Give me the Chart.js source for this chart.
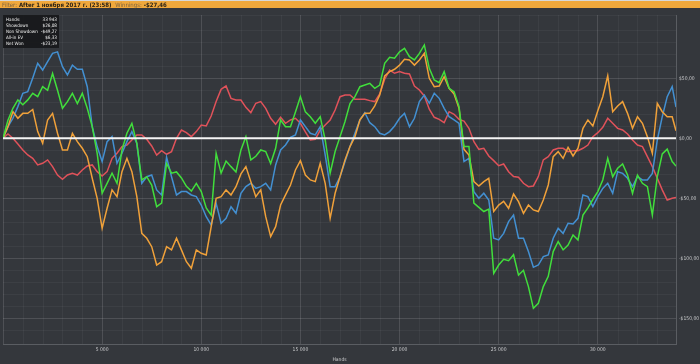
<!DOCTYPE html>
<html>
<head>
<meta charset="utf-8">
<title>Graph</title>
<script src="https://cdn.jsdelivr.net/npm/chart.js@4.4.0/dist/chart.umd.min.js"></script>
<style>
  html, body { margin: 0; padding: 0; background: #34373c; }
  #wrap { position: relative; width: 700px; height: 364px; overflow: hidden; background: #34373c; }
  #graph { position: absolute; left: 0; top: 0; }
  #topbar {
    position: absolute; left: 0; top: 0; width: 700px; height: 8px;
    background: #f0a83c; border-top: 1px solid #d8d8d8; box-sizing: border-box;
    font: bold 6px "DejaVu Sans Condensed", "Liberation Sans", Arial, sans-serif; line-height: 7px;
    color: #2a2216; padding-left: 2px; white-space: nowrap;
  }
  #topbar .lbl { color: #7a6240; font-weight: normal; }
  #stats {
    position: absolute; left: 3px; top: 15px; width: 56px; height: 33px;
    background: rgba(22, 23, 26, 0.9); box-sizing: border-box; padding: 2px 2px 0 3px;
    font: 4.6px "DejaVu Sans Condensed", "Liberation Sans", Arial, sans-serif; color: #f0f0f0;
  }
  #stats div { display: flex; justify-content: space-between; height: 6px; line-height: 6px; white-space: nowrap; }
</style>
</head>
<body>
<div id="wrap">
  <canvas id="graph" width="700" height="364"></canvas>
  <div id="topbar"><span class="lbl">Filter:</span> After 1 ноября 2017 г. (23:58) &nbsp;<span class="lbl">Winnings:</span> -$27,46</div>
  <div id="stats"></div>
</div>
<script>
// hands played (x values)
const hands = [
  0, 250, 500, 750, 1000, 1250, 1500, 1750, 2000, 2250, 2500, 2750, 3000, 3250, 3500, 3750,
  4000, 4250, 4500, 4750, 5000, 5250, 5500, 5750, 6000, 6250, 6500, 6750, 7000, 7250, 7500, 7750,
  8000, 8250, 8500, 8750, 9000, 9250, 9500, 9750, 10000, 10250, 10500, 10750, 11000, 11250, 11500, 11750,
  12000, 12250, 12500, 12750, 13000, 13250, 13500, 13750, 14000, 14250, 14500, 14750, 15000, 15250, 15500, 15750,
  16000, 16250, 16500, 16750, 17000, 17250, 17500, 17750, 18000, 18250, 18500, 18750, 19000, 19250, 19500, 19750,
  20000, 20250, 20500, 20750, 21000, 21250, 21500, 21750, 22000, 22250, 22500, 22750, 23000, 23250, 23500, 23750,
  24000, 24250, 24500, 24750, 25000, 25250, 25500, 25750, 26000, 26250, 26500, 26750, 27000, 27250, 27500, 27750,
  28000, 28250, 28500, 28750, 29000, 29250, 29500, 29750, 30000, 30250, 30500, 30750, 31000, 31250, 31500, 31750,
  32000, 32250, 32500, 32750, 33000, 33250, 33500, 33750, 33943
];

// Net Won (green)
const netWon = [
  0, 15, 25, 32, 28, 32, 37.5, 34.7, 43, 40, 54, 40, 25, 30.6, 37.5, 29, 37.5, 25, 9.7, -12.5, -45.8, -37.5, -29, -37.5, -9.7, 4.2, 12.5, -4.2,
  -34.7, -32, -39, -57, -54, -21, -29, -28, -33, -40, -44, -37.5, -44.4, -58, -64, -12.5, -29, -19, -23.6, -28, -9.7, 1.4, -18, -15, -9.7, -11, -21,
  -8.3, 15.3, 9.7, 9.7, 22, 34.7, 22, 18, 12.5, 18, -1.4, -29, -11, 1.4, 14, 29, 34.7, 43, 44.4, 45.8, 41.7, 44.4, 62.5, 67.5, 66.7, 72, 75, 68,
  65.3, 70.8, 77.8, 58.3, 48.6, 46.4, 55.6, 41.7, 38.9, 26.4, -6.9, -6.9, -54, -57.5, -61, -59, -112.5, -105.6, -100.8, -102, -97, -114, -110, -123.6, -141.7, -137.5, -123.6,
  -115, -94.4, -86, -93, -89, -80.6, -84.7, -64, -58, -51, -44.4, -34.7, -16.7, -32, -25, -21.4, -30.6, -45.8, -30.6, -37.5, -40.3, -64, -32, -13, -9, -19.4, -23.19
];

// Showdown (blue)
const showdown = [
  0, 9.7, 16.7, 26.4, 37.5, 38.9, 50.3, 62.5, 56.9, 63.9, 70.8, 72, 59.7, 52.8, 61, 57.5, 57.5, 43, 9.7, -6.9, -19.4, -2.8, 1.4, -20.8, -12.5, -2.8, 5.6, -4.2,
  -37.5, -32, -30.6, -43, -47.2, -15.8, -32, -47.2, -44.4, -44.4, -47.2, -48.6, -55.6, -65.3, -72.2, -54.2, -70.8, -66.7, -57, -62.5, -45.8, -40.3, -37.5, -41.7, -40.3, -37.5, -43,
  -22.2, -9.7, -5.6, 0.8, 2.8, 15.3, 9.7, 4.2, 2.8, 9.7, -13.9, -40.3, -40.3, -32, -19.4, -6.9, 4.2, 15.3, 21.4, 13, 9.7, 4.2, 2.8, 5.6, 10.3, 16.7, 20.8, 9.7,
  16.7, 30.6, 36.1, 29.2, 37.5, 33.3, 25, 18, 15.3, 12.5, -19.4, -16.7, -44.4, -50, -45.8, -51.4, -83.3, -84.7, -79.2, -69.4, -63.9, -83.3, -83.3, -94.4, -107.5, -105.6, -98.6,
  -97.2, -83.3, -75, -79.2, -70.8, -71.4, -66.7, -47.2, -48.6, -56.9, -48.6, -41.7, -37.5, -45.8, -27.8, -29.2, -33.3, -40.3, -31.9, -34.7, -34.7, -29.2, -1.4, 18, 34.7, 43, 26.08
];

// All-in EV (orange)
const allInEV = [
  0, 9.7, 22.2, 16.7, 20.8, 20.8, 24, 5.6, -4.2, 15.3, 20.8, 4.2, -9.7, -9.7, 4.2, -2.8, -8.3, -15.3, -33.3, -50, -75, -58.3, -43, -48.6, -27.8, -16.7, -27.8, -48.6,
  -79.2, -83.3, -90.3, -105.6, -102.8, -90.3, -93, -83.3, -93, -102.8, -108.3, -93, -95.8, -97.2, -73.6, -50, -48.6, -43, -47.2, -40.3, -29.7, -23.6, -36.1, -48.6, -43, -65.3, -81.9,
  -73.6, -55.6, -47.2, -38.9, -26.4, -18.6, -30.6, -34.7, -36.1, -20.8, -37.5, -66.7, -45.8, -31.9, -18, -6.9, 1.4, 15.3, 20.8, 20.8, 27, 36.1, 52, 55.6, 57.5, 61, 65.8, 65.3,
  61, 65.3, 70.8, 50, 43, 43.6, 51.4, 41.7, 37, 25, -9.2, -13.9, -36.1, -39.7, -36.1, -33.3, -61, -55.6, -52.5, -58.3, -46.4, -52.8, -62.5, -55.6, -59.7, -61, -51.4,
  -38.9, -15.3, -11.1, -16.7, -7.5, -14.7, -8.3, 8.3, 15.3, 10.3, 23, 34.7, 52, 22.2, 27, 30.6, 20.8, 8.3, 18, 12.5, 1.4, -12.5, 29.2, 22.2, 18, 18, 6.33
];

// Non Showdown (red)
const nonShowdown = [
  0, 3.6, 0, -4.7, -9.7, -13.9, -16.7, -22.2, -20.8, -18, -23.6, -30.6, -34.2, -30.6, -29.2, -30.6, -26.4, -23, -22.2, -27.8, -31.4, -27.8, -16.7, -12.5, -6.9, -5.6, -1.4, 2.8,
  2.8, -0.8, -6.4, -13.9, -10.3, -13.3, -11.1, 0, 6.9, 4.7, 1.4, 5.6, 11.1, 10.3, 18.6, 30.6, 40.8, 43.6, 33.3, 31.9, 31.9, 25.8, 21.4, 29.2, 30.6, 25, 16.7,
  11.7, 17.5, 12.5, 15.3, 16.7, 12.5, 5.3, -1.4, -0.8, 6.9, 11.1, 15.3, 23.6, 34.7, 36.1, 36.1, 32.5, 32.5, 32.5, 31.4, 30.6, 37, 49.2, 56.9, 54.2, 55.6, 54.2, 53.6,
  43.6, 40.3, 35.3, 24.2, 17.5, 15.8, 13, 22.2, 20, 15.8, 14.4, 8.3, -2.8, -9.2, -8.3, -14.7, -18.6, -22.8, -21.4, -27.8, -31.9, -32.5, -37.5, -40.3, -39.7, -31.9, -18,
  -15.3, -9.7, -8.3, -8.3, -11.1, -10.3, -10.3, -8.3, -5.6, 1.4, 4.7, 9.2, 16.7, 12.5, 8.3, 6.9, 3.6, -1.4, -5.6, -6.9, -15.3, -23.6, -33.3, -43, -51.4, -50, -49.27
];

const handTicks = [0, 5000, 10000, 15000, 20000, 25000, 30000];
const statLabels = ["Hands:", "Showdown", "Non Showdown", "All-in EV", "Net Won"];
const statValues = ["33 943", "$26,08", "-$49,27", "$6,33", "-$23,19"];

const yMin = -171.4;
const yMax = 102.75;
const handsMax = 33943;

function fmtMoney(v) {
  return (v < 0 ? "-" : "") + "$" + Math.abs(v).toFixed(2).replace(".", ",");
}

function fmtHands(v) {
  return String(v).replace(/\B(?=(\d{3})+(?!\d))/g, " ");
}

const statsBox = document.getElementById("stats");
statLabels.forEach((lbl, i) => {
  const row = document.createElement("div");
  row.innerHTML = `<span>${lbl}</span><span>${statValues[i]}</span>`;
  statsBox.appendChild(row);
});

function toPoints(values) {
  return values.map((v, i) => ({ x: hands[i], y: v }));
}

const majorGrid = "rgba(255,255,255,0.13)";
const minorGrid = "rgba(255,255,255,0.045)";
const tickColor = "#c9cacc";
const tickFont = { family: "'DejaVu Sans Condensed', 'Liberation Sans', Arial", size: 5 };

// faint vertical lines every 1000 hands
const minorHands = {
  id: "minorHands",
  beforeDatasetsDraw(chart) {
    const ctx = chart.ctx;
    const area = chart.chartArea;
    const sx = chart.scales.x;
    ctx.save();
    ctx.strokeStyle = minorGrid;
    ctx.lineWidth = 1;
    for (let h = 1000; h < handsMax; h += 1000) {
      if (h % 5000 === 0) continue;
      const x = Math.round(sx.getPixelForValue(h)) + 0.5;
      ctx.beginPath();
      ctx.moveTo(x, area.top);
      ctx.lineTo(x, area.bottom);
      ctx.stroke();
    }
    ctx.restore();
  }
};

// white zero line drawn over the series
const zeroLine = {
  id: "zeroLine",
  afterDatasetsDraw(chart) {
    const ctx = chart.ctx;
    const area = chart.chartArea;
    const y = chart.scales.y.getPixelForValue(0);
    ctx.save();
    ctx.strokeStyle = "#f4f4f4";
    ctx.lineWidth = 2;
    ctx.beginPath();
    ctx.moveTo(area.left, y);
    ctx.lineTo(area.right, y);
    ctx.stroke();
    ctx.restore();
  }
};

const lineStyle = { pointRadius: 0, borderWidth: 1.5, tension: 0, fill: false };

new Chart(document.getElementById("graph"), {
  type: "line",
  data: {
    datasets: [
      { label: "Net Won", data: toPoints(netWon), borderColor: "#41de3c", order: 1, ...lineStyle },
      { label: "All-in EV", data: toPoints(allInEV), borderColor: "#f0a13a", order: 2, ...lineStyle },
      { label: "Showdown", data: toPoints(showdown), borderColor: "#4390d2", order: 3, ...lineStyle },
      { label: "Non Showdown", data: toPoints(nonShowdown), borderColor: "#e0525a", order: 4, ...lineStyle }
    ]
  },
  options: {
    responsive: false,
    animation: false,
    layout: { padding: { left: 3, top: 15, right: 0, bottom: 0 } },
    plugins: { legend: { display: false }, tooltip: { enabled: false } },
    scales: {
      x: {
        type: "linear",
        min: 0,
        max: handsMax,
        afterBuildTicks: (scale) => {
          scale.ticks = handTicks.concat([handsMax]).map((value) => ({ value }));
        },
        afterFit: (scale) => { scale.height = 20; },
        border: { display: true, color: "#5a5d62" },
        grid: { drawTicks: false, color: majorGrid },
        ticks: {
          autoSkip: false,
          maxRotation: 0,
          padding: 3,
          color: tickColor,
          font: tickFont,
          callback: (v) => (v > 0 && v < handsMax ? fmtHands(v) : "")
        },
        title: {
          display: true,
          text: "Hands",
          color: tickColor,
          font: tickFont,
          padding: { top: 0, bottom: 1 }
        }
      },
      y: {
        position: "right",
        min: yMin,
        max: yMax,
        afterFit: (scale) => { scale.width = 24; },
        border: { display: true, color: "#5a5d62" },
        grid: {
          drawTicks: false,
          color: (ctx) => (ctx.tick && Math.abs(ctx.tick.value % 50) < 1e-6 ? majorGrid : minorGrid)
        },
        ticks: {
          stepSize: 10,
          autoSkip: false,
          padding: 3,
          color: tickColor,
          font: tickFont,
          callback: (v) => (Math.abs(v % 50) < 1e-6 ? fmtMoney(v) : "")
        }
      }
    }
  },
  plugins: [minorHands, zeroLine]
});
</script>
</body>
</html>
